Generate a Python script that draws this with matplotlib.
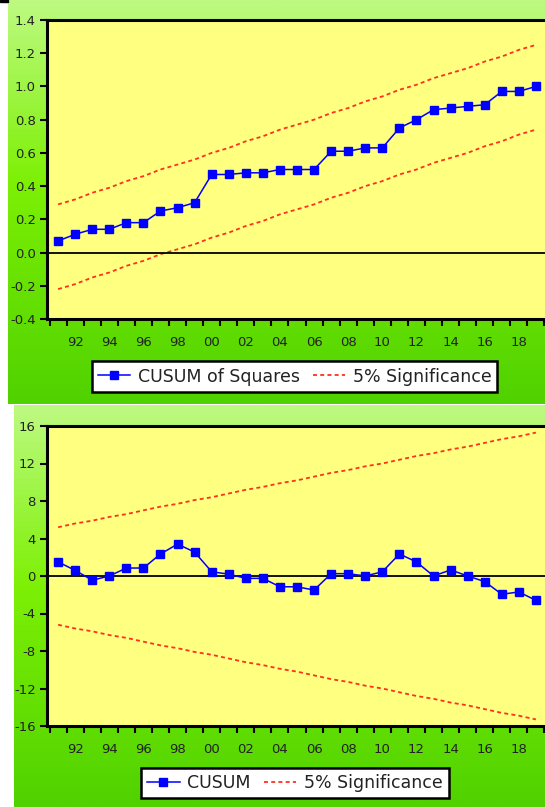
import numpy as np
import matplotlib
matplotlib.use("Agg")
import matplotlib.pyplot as plt
from matplotlib.colors import LinearSegmentedColormap
from matplotlib.patches import Rectangle

# data
years = list(range(1991, 2020))

cusum_sq = [0.07, 0.11, 0.14, 0.14, 0.18, 0.18, 0.25, 0.27, 0.30, 0.47,
            0.47, 0.48, 0.48, 0.50, 0.50, 0.50, 0.61, 0.61, 0.63, 0.63,
            0.75, 0.80, 0.86, 0.87, 0.88, 0.89, 0.97, 0.97, 1.00]
sq_upper = [0.29, 0.32, 0.36, 0.39, 0.43, 0.46, 0.50, 0.53, 0.56, 0.60,
            0.63, 0.67, 0.70, 0.74, 0.77, 0.80, 0.84, 0.87, 0.91, 0.94,
            0.98, 1.01, 1.05, 1.08, 1.11, 1.15, 1.18, 1.22, 1.25]
sq_lower = [-0.22, -0.19, -0.15, -0.12, -0.08, -0.05, -0.01, 0.02, 0.05, 0.09,
            0.12, 0.16, 0.19, 0.23, 0.26, 0.29, 0.33, 0.36, 0.40, 0.43,
            0.47, 0.50, 0.54, 0.57, 0.60, 0.64, 0.67, 0.71, 0.74]

cusum = [1.5, 0.6, -0.45, 0.0, 0.85, 0.85, 2.35, 3.4, 2.55, 0.45,
         0.2, -0.25, -0.25, -1.15, -1.15, -1.5, 0.25, 0.25, 0.0, 0.45,
         2.35, 1.5, 0.0, 0.65, 0.0, -0.6, -1.95, -1.7, -2.6]
cu_upper = [5.2, 5.6, 5.9, 6.3, 6.6, 7.0, 7.4, 7.7, 8.1, 8.4,
            8.8, 9.2, 9.5, 9.9, 10.2, 10.6, 11.0, 11.3, 11.7, 12.0,
            12.4, 12.8, 13.1, 13.5, 13.8, 14.2, 14.6, 14.9, 15.3]
cu_lower = [-v for v in cu_upper]

sq_yticks = [-0.4, -0.2, 0.0, 0.2, 0.4, 0.6, 0.8, 1.0, 1.2, 1.4]
cu_yticks = [-16, -12, -8, -4, 0, 4, 8, 12, 16]

W, H = 545, 807
plt.rcParams['axes.unicode_minus'] = False
plt.rcParams['font.family'] = ['DejaVu Sans']

fig = plt.figure(figsize=(W / 100, H / 100), dpi=100)
fig.patch.set_facecolor('white')


def fx(px):
    return px / W


def fy(py):
    return 1 - py / H


green = LinearSegmentedColormap.from_list(
    'bg', [(0.0, (190/255, 250/255, 130/255)),
           (0.45, (125/255, 240/255, 5/255)),
           (1.0, (80/255, 210/255, 0))])


def background(x0, y0, x1, y1):
    bg = fig.add_axes([fx(x0), fy(y1), fx(x1 - x0), (y1 - y0) / H])
    bg.imshow(np.linspace(0, 1, 256).reshape(-1, 1), cmap=green,
              aspect='auto', extent=(0, 1, 1, 0))
    bg.set_axis_off()


background(8, 0, 545, 404)
background(14, 405, 545, 807)
fig.patches.append(Rectangle((0, fy(2)), fx(8), 2 / H, transform=fig.transFigure,
                             color='black', zorder=5))

bounds = [y - 0.5 for y in years] + [years[-1] + 0.5]
label_years = [y for y in years if y % 2 == 0]


def panel(top, bottom, values, upper, lower, yticks, ylab_fmt, name, leg_center):
    ax = fig.add_axes([fx(47), fy(bottom), fx(553 - 47), (bottom - top) / H])
    ax.set_facecolor('#ffff80')
    sig, = ax.plot(years, upper, color='#ff3020', lw=1.3,
                   linestyle=(0, (2.2, 1.8)), label='5% Significance')
    ax.plot(years, lower, color='#ff3020', lw=1.3, linestyle=(0, (2.2, 1.8)))
    ax.axhline(0, color='black', lw=1.3)
    main, = ax.plot(years, values, color='#0000ff', lw=1.1, marker='s',
                    markersize=5.5, label=name)
    ax.set_xlim(1990.35, 2020.0)
    ax.set_ylim(yticks[0], yticks[-1])
    ax.set_yticks(yticks)
    ax.set_yticklabels([ylab_fmt.format(v) for v in yticks])
    ax.set_xticks(bounds)
    ax.set_xticklabels([])
    ax.set_xticks(label_years, minor=True)
    ax.set_xticklabels([f"{y % 100:02d}" for y in label_years], minor=True)
    ax.tick_params(axis='x', which='major', direction='out', length=5, width=1.5)
    ax.tick_params(axis='x', which='minor', length=0, pad=12, labelsize=9.5,
                   labelcolor='#222222')
    ax.tick_params(axis='y', direction='out', length=5, width=1.5, pad=3,
                   labelsize=9.5, labelcolor='#222222')
    for s in ax.spines.values():
        s.set_linewidth(2.2)
    leg = fig.legend(handles=[main, sig], loc='center', ncol=2,
                     bbox_to_anchor=(fx(leg_center[0]), fy(leg_center[1])),
                     fontsize=12.5, frameon=True, fancybox=False,
                     handlelength=1.85, handletextpad=0.45, columnspacing=0.75,
                     borderpad=0.35)
    leg.get_frame().set_edgecolor('black')
    leg.get_frame().set_linewidth(1.8)
    leg.get_frame().set_alpha(1)
    for t in leg.get_texts():
        t.set_color('#222222')
    return ax


panel(20, 319, cusum_sq, sq_upper, sq_lower, sq_yticks, "{:.1f}",
      'CUSUM of Squares', (294.5, 376.5))
panel(426, 726, cusum, cu_upper, cu_lower, cu_yticks, "{:d}",
      'CUSUM', (295, 783))

fig.savefig('out.png', dpi=100)
